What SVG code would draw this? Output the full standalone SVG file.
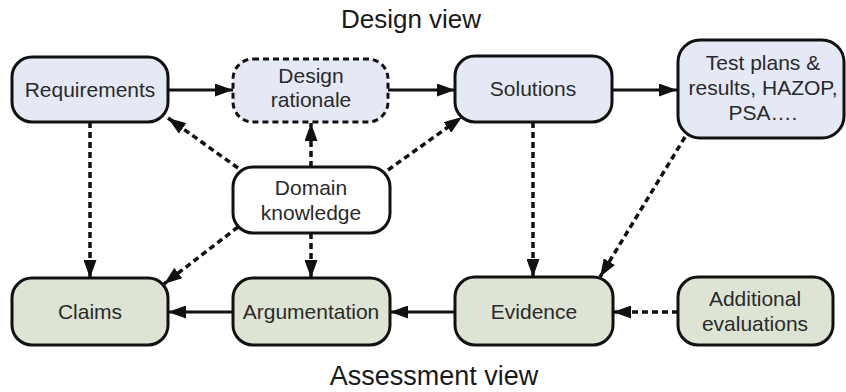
<svg xmlns="http://www.w3.org/2000/svg" width="846" height="392" viewBox="0 0 846 392">
  <defs>
    <marker id="arrow" viewBox="0 0 18 13" refX="18" refY="6.5" markerWidth="18" markerHeight="13" markerUnits="userSpaceOnUse" orient="auto">
      <path d="M0,0 L18,6.5 L0,13 Z" fill="#111"/>
    </marker>
    <style>
      .box { stroke: #111; stroke-width: 3; }
      .design { fill: #e4e9f5; }
      .assess { fill: #dee4d3; }
      .plain { fill: #ffffff; }
      .dashbox { stroke-dasharray: 6 4; }
      .label { font-family: "Liberation Sans", Arial, sans-serif; font-size: 21px; fill: #2a2a2a; text-anchor: middle; }
      .title { font-family: "Liberation Sans", Arial, sans-serif; fill: #1a1a1a; text-anchor: middle; }
      .link { stroke: #111; stroke-width: 3; fill: none; marker-end: url(#arrow); }
      .dashed { stroke-width: 3.5; stroke-dasharray: 6 4; }
    </style>
  </defs>

  <rect width="846" height="392" fill="#ffffff"/>

  <!-- view titles -->
  <text class="title" x="411" y="28" font-size="26">Design view</text>
  <text class="title" x="434" y="385" font-size="27">Assessment view</text>

  <!-- connectors -->
  <g id="connectors">
    <line class="link" x1="168" y1="90" x2="233" y2="90"/>
    <line class="link" x1="388" y1="90" x2="455" y2="90"/>
    <line class="link" x1="612" y1="90" x2="677" y2="90"/>
    <line class="link dashed" x1="238" y1="168" x2="168" y2="118"/>
    <line class="link dashed" x1="311" y1="167" x2="311" y2="123"/>
    <line class="link dashed" x1="388" y1="170" x2="462" y2="117"/>
    <line class="link dashed" x1="90" y1="122" x2="90" y2="278"/>
    <line class="link dashed" x1="238" y1="227" x2="164" y2="284"/>
    <line class="link dashed" x1="311" y1="233" x2="311" y2="278"/>
    <line class="link dashed" x1="533" y1="122" x2="533" y2="277"/>
    <line class="link dashed" x1="685" y1="137" x2="600" y2="277"/>
    <line class="link dashed" x1="678" y1="312" x2="613" y2="312"/>
    <line class="link" x1="455" y1="312" x2="390" y2="312"/>
    <line class="link" x1="233" y1="312" x2="168" y2="312"/>
  </g>

  <!-- design view nodes -->
  <g id="requirements">
    <rect class="box design" x="12" y="57" width="156" height="65" rx="20"/>
    <text class="label" x="90" y="97">Requirements</text>
  </g>
  <g id="design-rationale">
    <rect class="box design dashbox" x="233" y="59" width="155" height="63" rx="20"/>
    <text class="label" x="311" y="83">Design</text>
    <text class="label" x="311" y="107">rationale</text>
  </g>
  <g id="solutions">
    <rect class="box design" x="455" y="56" width="157" height="66" rx="20"/>
    <text class="label" x="533" y="96">Solutions</text>
  </g>
  <g id="test-plans">
    <rect class="box design" x="678" y="40" width="166" height="98" rx="22"/>
    <text class="label" x="763" y="70">Test plans &amp;</text>
    <text class="label" x="763" y="95">results, HAZOP,</text>
    <text class="label" x="763" y="120">PSA….</text>
  </g>

  <!-- shared knowledge -->
  <g id="domain-knowledge">
    <rect class="box plain" x="233" y="167" width="157" height="66" rx="20"/>
    <text class="label" x="311" y="195">Domain</text>
    <text class="label" x="311" y="220">knowledge</text>
  </g>

  <!-- assessment view nodes -->
  <g id="claims">
    <rect class="box assess" x="12" y="278" width="156" height="67" rx="20"/>
    <text class="label" x="90" y="319">Claims</text>
  </g>
  <g id="argumentation">
    <rect class="box assess" x="233" y="278" width="157" height="67" rx="20"/>
    <text class="label" x="311" y="319">Argumentation</text>
  </g>
  <g id="evidence">
    <rect class="box assess" x="455" y="277" width="158" height="68" rx="20"/>
    <text class="label" x="534" y="319">Evidence</text>
  </g>
  <g id="additional-evaluations">
    <rect class="box assess" x="678" y="277" width="155" height="68" rx="20"/>
    <text class="label" x="755" y="306">Additional</text>
    <text class="label" x="755" y="331">evaluations</text>
  </g>
</svg>
